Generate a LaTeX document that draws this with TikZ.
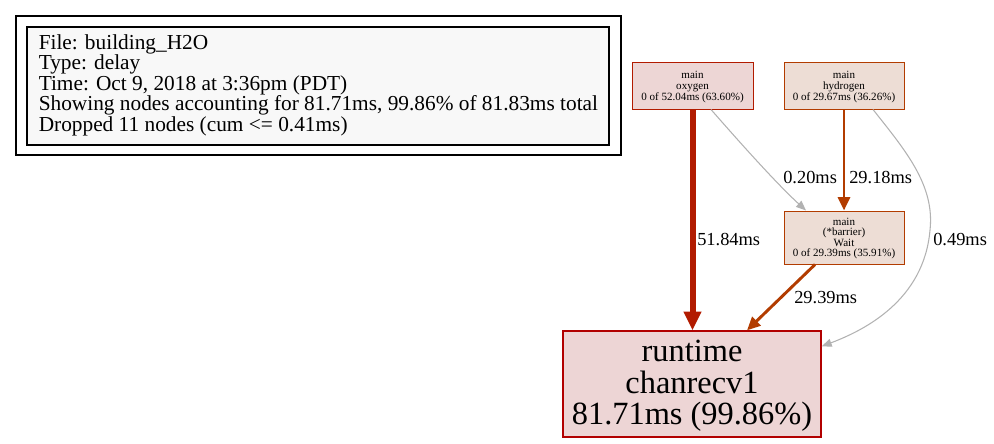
\documentclass[tikz,border=0pt]{standalone}
\usepackage{fontspec}
\setmainfont{Liberation Serif}
\usetikzlibrary{arrows.meta,calc}
\definecolor{rtfill}{HTML}{EDD5D5}
\definecolor{rtdraw}{HTML}{B20000}
\definecolor{oxfill}{HTML}{EDD6D5}
\definecolor{oxdraw}{HTML}{B21B00}
\definecolor{hyfill}{HTML}{EDDDD5}
\definecolor{hydraw}{HTML}{B23C00}
\definecolor{edgegray}{HTML}{B2B2B2}
\definecolor{legfill}{HTML}{F8F8F8}
\tikzset{
  fnode/.style={draw, rectangle, align=center, inner sep=0pt, line width=0.75pt,
    font=\fontsize{8.3}{7.9}\selectfont},
  elabel/.style={anchor=west, inner sep=0pt, font=\fontsize{13.8}{14}\selectfont},
  legline/.style={anchor=base west, inner sep=0pt, font=\fontsize{16}{16}\selectfont},
  thickedge/.style={draw=oxdraw, line width=4.5pt, -{Triangle[length=14pt,width=12.5pt]}},
  midedge/.style={draw=hydraw, line width=2.2pt, -{Triangle[length=10pt,width=9pt]}},
  grayedge/.style={draw=edgegray, line width=0.8pt, -{Triangle[length=7.5pt,width=6pt]}},
}
\begin{document}
\begin{tikzpicture}[x=0.75pt,y=-0.75pt]
\useasboundingbox (0,0) rectangle (994,443);
% legend
\draw[line width=1pt] (16,16) rectangle (621,155);
\draw[line width=1pt, fill=legfill] (27,27) rectangle (609,145);
\node[legline] (leg1) at (38.5,49) {File: building\_H2O};
\node[legline] (leg2) at (38.5,69.5) {Type: delay};
\node[legline] (leg3) at (38.5,90) {Time: Oct 9, 2018 at 3:36pm (PDT)};
\node[legline] (leg4) at (38.5,110.5) {Showing nodes accounting for 81.71ms, 99.86\% of 81.83ms total};
\node[legline] (leg5) at (38.5,131) {Dropped 11 nodes (cum <= 0.41ms)};
% nodes
\node[fnode, fill=oxfill, draw=oxdraw, minimum width=90.75pt, minimum height=35.25pt] (ox) at (692.5,85.5) {};
\node[fnode, draw=none, fill=none] (oxt) at ($(ox.center)+(0,1.5)$) {main\\oxygen\\0 of 52.04ms (63.60\%)};
\node[fnode, fill=hyfill, draw=hydraw, minimum width=90pt, minimum height=35.25pt] (hy) at (844,85.5) {};
\node[fnode, draw=none, fill=none] (hyt) at ($(hy.center)+(0,1.5)$) {main\\hydrogen\\0 of 29.67ms (36.26\%)};
\node[fnode, fill=hyfill, draw=hydraw, minimum width=90pt, minimum height=39.75pt] (ba) at (844,237.5) {};
\node[fnode, draw=none, fill=none] (bat) at ($(ba.center)+(0,1)$) {main\\(*barrier)\\Wait\\0 of 29.39ms (35.91\%)};
\node[draw=rtdraw, fill=rtfill, line width=1pt, rectangle, inner sep=0pt,
  minimum width=193.5pt, minimum height=79.5pt] (rt) at (692,384) {};
\node[align=center, inner sep=0pt, font=\fontsize{24.3}{23.5}\selectfont] (rtt) at ($(rt.center)+(0,2)$)
 {runtime\\chanrecv1\\81.71ms (99.86\%)};
% edges
\draw[thickedge] (ox.south) -- (ox.south |- rt.north);
\draw[midedge] (hy.south) -- (ba.north);
\draw[midedge] ($(ba.south)+(-29,0)$) -- ($(rt.north)+(55,0)$);
\draw[grayedge] ($(ox.south)+(18.5,0)$) .. controls (742,145) and (778,185) .. ($(ba.north)+(-38,0)$);
\draw[grayedge] ($(hy.south)+(29,0)$) .. controls (905,150) and (935,185) .. (930,230)
  .. controls (924,300) and (865,330) .. ($(rt.north east)+(0,16)$);
% labels
\node[elabel] (l1) at (697,240) {51.84ms};
\node[elabel] (l2) at (849,178) {29.18ms};
\node[elabel] (l3) at (783,178) {0.20ms};
\node[elabel] (l4) at (933,240) {0.49ms};
\node[elabel] (l5) at (794,298) {29.39ms};
\end{tikzpicture}
\end{document}
